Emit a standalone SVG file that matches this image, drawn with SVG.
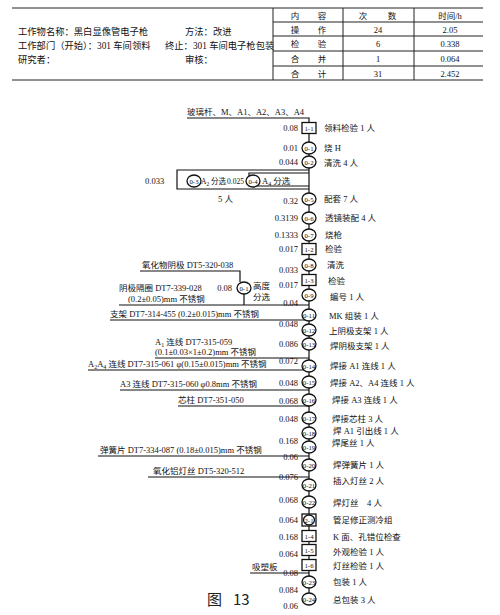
<svg xmlns="http://www.w3.org/2000/svg" width="500" height="615" viewBox="0 0 500 615">
<style>
.t{font-family:"Liberation Serif","Noto Sans CJK SC",serif;font-size:8.5px;fill:#111}
.h{font-size:9.3px}
.s{font-size:7.5px}
.c{text-anchor:middle}
.e{text-anchor:end}
.n{font-family:"Liberation Serif","Noto Sans CJK SC",serif;font-size:6.8px;fill:#111;text-anchor:middle}
.ln{stroke:#111;fill:none;stroke-width:1.2}
.tb{stroke:#222;fill:none;stroke-width:1}
.nd{fill:#fff;stroke:#111;stroke-width:1.3}
</style>
<rect width="500" height="615" fill="#fff"/>
<g id="header">
<path class="tb" d="M12,8H483M12,80H483M273,8V80M343,8V80M414,8V80M273,22H483M273,36H483M273,51H483M273,66H483"/>
<text class="t h" x="18" y="35">工作物名称：黑白显像管电子枪</text>
<text class="t h" x="185" y="35">方法：改进</text>
<text class="t h" x="18" y="49">工作部门（开始）：301 车间领料</text>
<text class="t h" x="165" y="49">终止：301 车间电子枪包装</text>
<text class="t h" x="18" y="63">研究者：</text>
<text class="t h" x="185" y="63">审核：</text>
<text class="t c" x="295" y="19">内</text><text class="t c" x="322" y="19">容</text>
<text class="t c" x="363" y="19">次</text><text class="t c" x="392" y="19">数</text>
<text class="t c" x="450" y="19">时间/h</text>
<text class="t c" x="295" y="33">操</text><text class="t c" x="322" y="33">作</text>
<text class="t c" x="378" y="33">24</text><text class="t c" x="450" y="33">2.05</text>
<text class="t c" x="295" y="47">检</text><text class="t c" x="322" y="47">验</text>
<text class="t c" x="378" y="47">6</text><text class="t c" x="450" y="47">0.338</text>
<text class="t c" x="295" y="62">合</text><text class="t c" x="322" y="62">并</text>
<text class="t c" x="378" y="62">1</text><text class="t c" x="450" y="62">0.064</text>
<text class="t c" x="295" y="77">合</text><text class="t c" x="322" y="77">计</text>
<text class="t c" x="378" y="77">31</text><text class="t c" x="450" y="77">2.452</text>
</g>
<g id="connectors">
<path class="ln" d="M187,118H309V599"/>
<path class="ln" d="M309,170H177V189H309M309,173H249V186H309"/>
<path class="ln" d="M140,271H240V282"/>
<path class="ln" d="M119,305H309M244,294V305"/>
<path class="ln" d="M110,320H309"/>
<path class="ln" d="M155,358H309"/>
<path class="ln" d="M88,370H309"/>
<path class="ln" d="M120,390H309"/>
<path class="ln" d="M178,406H309"/>
<path class="ln" d="M98,456H309"/>
<path class="ln" d="M148,477H309"/>
<path class="ln" d="M250,573H309"/>
</g>
<g id="materials">
<text class="t" x="187" y="115">玻璃杆、M、A1、A2、A3、A4</text>
<text class="t" x="142" y="268">氧化物阴极 DT5-320-038</text>
<text class="t" x="119" y="291">阴极隔圈 DT7-339-028</text>
<text class="t" x="128" y="302">(0.2±0.05)mm 不锈钢</text>
<text class="t" x="110" y="317">支架 DT7-314-455  (0.2±0.015)mm 不锈钢</text>
<text class="t" x="155" y="345">A<tspan font-size="6" dy="2">1</tspan><tspan dy="-2"> 连线 DT7-315-059</tspan></text>
<text class="t" x="155" y="355">(0.1±0.03×1±0.2)mm 不锈钢</text>
<text class="t" x="88" y="367">A<tspan font-size="6" dy="2">2</tspan><tspan dy="-2">A</tspan><tspan font-size="6" dy="2">4</tspan><tspan dy="-2"> 连线 DT7-315-061  φ(0.15±0.015)mm 不锈钢</tspan></text>
<text class="t" x="120" y="387">A3 连线 DT7-315-060  φ0.8mm 不锈钢</text>
<text class="t" x="178" y="403">芯柱 DT7-351-050</text>
<text class="t" x="100" y="453">弹簧片 DT7-334-087  (0.18±0.015)mm 不锈钢</text>
<text class="t" x="153" y="474">氧化铝灯丝 DT5-320-512</text>
<text class="t" x="252" y="570">吸塑板</text>
<text class="t" x="218" y="202">5 人</text>
<text x="207" y="605" style="font-family:'Noto Sans CJK SC','DejaVu Sans',sans-serif;font-size:15px;fill:#222">图<tspan x="233">13</tspan></text>
</g>
<g id="n1-1"><rect class="nd" x="302" y="122.5" width="14" height="11"/><text class="n" x="309" y="130.5">1-1</text><text class="t e" x="298" y="131">0.08</text><text class="t" x="324" y="131">领料检验 1 人</text></g>
<g id="n0-1"><ellipse class="nd" cx="309" cy="148" rx="7" ry="6"/><text class="n" x="309" y="150.5">0-1</text><text class="t e" x="298" y="151">0.01</text><text class="t" x="324" y="151">烧 H</text></g>
<g id="n0-2"><ellipse class="nd" cx="309" cy="162" rx="7" ry="6"/><text class="n" x="309" y="164.5">0-2</text><text class="t e" x="298" y="165">0.044</text><text class="t" x="324" y="166">清洗 4 人</text></g>
<g id="n0-3"><ellipse class="nd" cx="194" cy="181" rx="7" ry="6"/><text class="n" x="194" y="183.5">0-3</text><text class="t" x="145" y="184">0.033</text><text class="t s" x="201" y="184">A<tspan font-size="5.5" dy="2">2</tspan><tspan dy="-2"> 分选</tspan></text></g>
<g id="n0-4"><ellipse class="nd" cx="253" cy="181" rx="7" ry="6"/><text class="n" x="253" y="183.5">0-4</text><text class="t s" x="227" y="184">0.025</text><text class="t" x="262" y="184">A<tspan font-size="6" dy="2">4</tspan><tspan dy="-2"> 分选</tspan></text></g>
<g id="n0-5"><ellipse class="nd" cx="309" cy="199" rx="7" ry="6"/><text class="n" x="309" y="201.5">0-5</text><text class="t e" x="298" y="204">0.32</text><text class="t" x="324" y="202">配套 7 人</text></g>
<g id="n0-6"><ellipse class="nd" cx="309" cy="218" rx="7" ry="6"/><text class="n" x="309" y="220.5">0-6</text><text class="t e" x="298" y="221">0.3139</text><text class="t" x="325" y="221">透镜装配 4 人</text></g>
<g id="n0-7"><ellipse class="nd" cx="309" cy="235" rx="7" ry="6"/><text class="n" x="309" y="237.5">0-7</text><text class="t e" x="298" y="238">0.1333</text><text class="t" x="325" y="238">烧枪</text></g>
<g id="n1-2"><rect class="nd" x="302" y="243.5" width="14" height="11"/><text class="n" x="309" y="251.5">1-2</text><text class="t e" x="298" y="252">0.017</text><text class="t" x="325" y="252">检验</text></g>
<g id="n0-8"><ellipse class="nd" cx="309" cy="265" rx="7" ry="6"/><text class="n" x="309" y="267.5">0-8</text><text class="t e" x="298" y="273">0.033</text><text class="t" x="327" y="268">清洗</text></g>
<g id="n1-3"><rect class="nd" x="302" y="274.5" width="14" height="11"/><text class="n" x="309" y="282.5">1-3</text><text class="t e" x="298" y="288">0.017</text><text class="t" x="328" y="284">检验</text></g>
<g id="n0-9"><ellipse class="nd" cx="309" cy="295" rx="7" ry="6"/><text class="n" x="309" y="297.5">0-9</text><text class="t e" x="298" y="306">0.04</text><text class="t" x="330" y="300">编号 1 人</text></g>
<g id="n0-1b"><ellipse class="nd" cx="244" cy="288" rx="7" ry="6"/><text class="n" x="244" y="290.5">0-1</text><text class="t e" x="232" y="291">0.08</text><text class="t" x="253" y="289">高度</text><text class="t" x="253" y="300">分选</text></g>
<g id="n0-11"><ellipse class="nd" cx="309" cy="315" rx="7" ry="6"/><text class="n" x="309" y="317.5">0-11</text><text class="t" x="329" y="319">MK 组装 1 人</text></g>
<g id="n0-12"><ellipse class="nd" cx="309" cy="330" rx="7" ry="6"/><text class="n" x="309" y="332.5">0-12</text><text class="t e" x="298" y="327">0.048</text><text class="t" x="329" y="334">上阴极支架 1 人</text></g>
<g id="n0-13"><ellipse class="nd" cx="309" cy="344" rx="7" ry="6"/><text class="n" x="309" y="346.5">0-13</text><text class="t e" x="298" y="347">0.086</text><text class="t" x="330" y="349">焊阴极支架 1 人</text></g>
<g id="n0-14"><ellipse class="nd" cx="309" cy="366" rx="7" ry="6"/><text class="n" x="309" y="368.5">0-14</text><text class="t e" x="298" y="364">0.072</text><text class="t" x="330" y="369">焊接 A1 连线 1 人</text></g>
<g id="n0-15"><ellipse class="nd" cx="309" cy="382" rx="7" ry="6"/><text class="n" x="309" y="384.5">0-15</text><text class="t e" x="298" y="386">0.048</text><text class="t" x="330" y="386">焊接 A2、A4 连线 1 人</text></g>
<g id="n0-16"><ellipse class="nd" cx="309" cy="400" rx="7" ry="6"/><text class="n" x="309" y="402.5">0-16</text><text class="t e" x="298" y="404">0.068</text><text class="t" x="332" y="403">焊接 A3 连线 1 人</text></g>
<g id="n0-17"><ellipse class="nd" cx="309" cy="418" rx="7" ry="6"/><text class="n" x="309" y="420.5">0-17</text><text class="t e" x="298" y="422">0.048</text><text class="t" x="332" y="422">焊接芯柱 3 人</text></g>
<g id="n0-18"><ellipse class="nd" cx="309" cy="433" rx="7" ry="6"/><text class="n" x="309" y="435.5">0-18</text><text class="t" x="333" y="434">焊 A1 引出线 1 人</text></g>
<g id="n0-19"><ellipse class="nd" cx="309" cy="447" rx="7" ry="6"/><text class="n" x="309" y="449.5">0-19</text><text class="t e" x="298" y="444">0.168</text><text class="t" x="332" y="446">焊尾丝 1 人</text></g>
<g id="n0-20"><ellipse class="nd" cx="309" cy="465" rx="7" ry="6"/><text class="n" x="309" y="467.5">0-20</text><text class="t e" x="298" y="460">0.06</text><text class="t" x="333" y="468">焊弹簧片 1 人</text></g>
<g id="n0-21"><ellipse class="nd" cx="309" cy="485" rx="7" ry="6"/><text class="n" x="309" y="487.5">0-21</text><text class="t e" x="298" y="480">0.076</text><text class="t" x="333" y="484">插入灯丝 2 人</text></g>
<g id="n0-22"><ellipse class="nd" cx="309" cy="502" rx="7" ry="6"/><text class="n" x="309" y="504.5">0-22</text><text class="t e" x="298" y="503">0.068</text><text class="t" x="333" y="506">焊灯丝　4 人</text></g>
<g id="n2-1"><rect class="nd" x="302" y="514" width="14" height="12"/><ellipse class="nd" cx="309" cy="520" rx="5.5" ry="5" stroke-width="1"/><text class="n" x="309" y="522.5">2-1</text><text class="t e" x="298" y="523">0.064</text><text class="t" x="333" y="523">管足修正测冷组</text></g>
<g id="n1-4"><rect class="nd" x="302" y="530.5" width="14" height="11"/><text class="n" x="309" y="538.5">1-4</text><text class="t e" x="298" y="540">0.168</text><text class="t" x="333" y="540">K 面、孔错位检查</text></g>
<g id="n1-5"><rect class="nd" x="302" y="544.5" width="14" height="11"/><text class="n" x="309" y="552.5">1-5</text><text class="t e" x="298" y="557">0.064</text><text class="t" x="333" y="555">外观检验 1 人</text></g>
<g id="n1-6"><rect class="nd" x="302" y="559.5" width="14" height="11"/><text class="n" x="309" y="567.5">1-6</text><text class="t e" x="298" y="576">0.08</text><text class="t" x="333" y="569">灯丝检验 1 人</text></g>
<g id="n0-23"><ellipse class="nd" cx="309" cy="582" rx="7" ry="6"/><text class="n" x="309" y="584.5">0-23</text><text class="t e" x="298" y="593">0.084</text><text class="t" x="333" y="585">包装 1 人</text></g>
<g id="n0-24"><ellipse class="nd" cx="309" cy="599" rx="7" ry="6"/><text class="n" x="309" y="601.5">0-24</text><text class="t e" x="298" y="609">0.06</text><text class="t" x="333" y="603">总包装 3 人</text></g>
</svg>
